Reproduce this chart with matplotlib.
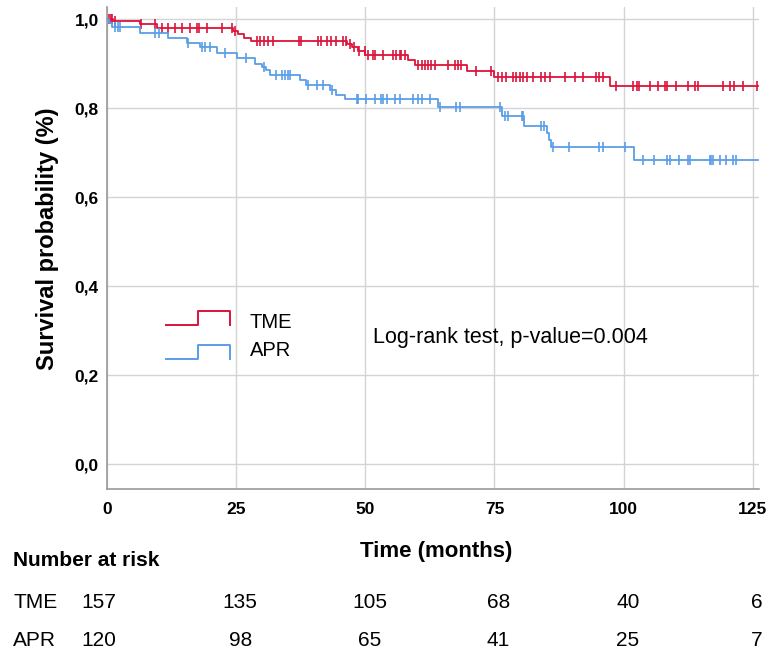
import numpy as np
import matplotlib
matplotlib.use('Agg')
import matplotlib.pyplot as plt
import matplotlib.transforms as mtransforms

plt.rcParams['font.family'] = ['Liberation Sans', 'DejaVu Sans']

# Kaplan-Meier steps (time in months, survival after the step)
tme_times = [0, 1.2, 6.4, 9.6, 24.4, 25.4, 26.5, 27.8, 46.5, 47.5, 48.5, 50.0,
             58.2, 59.6, 69.6, 75.0, 97.3]
tme_surv = [1.0, 0.995, 0.989, 0.980, 0.973, 0.966, 0.958, 0.951, 0.944, 0.937,
            0.929, 0.919, 0.908, 0.897, 0.884, 0.870, 0.850]
apr_times = [0, 0.3, 1.0, 6.4, 11.8, 15.4, 18.0, 21.2, 25.1, 28.6, 30.0, 30.8,
             31.5, 37.3, 38.6, 43.1, 44.4, 46.0, 64.0, 76.4, 80.8, 85.1, 85.5,
             86.0, 102.1]
apr_surv = [1.0, 0.992, 0.983, 0.968, 0.957, 0.947, 0.938, 0.924, 0.912, 0.900,
            0.892, 0.885, 0.874, 0.863, 0.852, 0.840, 0.829, 0.820, 0.802, 0.782,
            0.760, 0.745, 0.729, 0.713, 0.683]
t_end = 126.0

# censored observations
tme_cens = [0.4, 0.7, 1.0, 1.5, 6.6, 9.3, 10.6, 11.9, 13.2, 14.6, 16.1, 17.5,
            17.9, 19.3, 22.2, 24.1, 24.8, 29.0, 29.6, 30.4, 31.2, 32.2, 37.2,
            37.6, 40.9, 41.5, 42.5, 43.4, 44.4, 45.6, 46.2, 47.1, 47.9, 48.8,
            49.9, 50.5, 51.5, 51.8, 53.4, 55.4, 56.0, 56.7, 57.0, 57.6, 60.2,
            60.9, 61.5, 62.1, 62.8, 63.4, 66.0, 67.3, 67.9, 68.6, 71.5, 74.4,
            75.7, 76.4, 77.3, 78.6, 79.2, 79.9, 80.5, 81.2, 82.5, 84.1, 84.7,
            85.7, 88.6, 90.5, 92.1, 94.7, 95.3, 96.0, 98.6, 101.9, 102.5, 103.0,
            105.1, 106.7, 108.0, 108.3, 110.2, 112.5, 113.8, 114.4, 119.3, 120.5,
            121.3, 123.1, 125.8]
apr_cens = [1.5, 2.2, 2.6, 9.3, 10.0, 15.7, 18.3, 18.9, 19.9, 22.8, 27.0, 30.4,
            32.8, 33.8, 34.4, 35.1, 35.4, 38.9, 40.6, 41.8, 43.6, 48.3, 48.6,
            50.2, 51.8, 53.1, 53.4, 54.1, 55.7, 56.7, 59.3, 60.2, 60.9, 62.5,
            64.4, 67.6, 68.3, 76.0, 77.0, 77.6, 80.3, 80.6, 84.1, 84.6, 86.3,
            89.5, 95.3, 96.0, 100.2, 103.7, 105.8, 108.3, 108.9, 110.8, 112.5,
            112.8, 116.7, 117.0, 117.3, 118.6, 119.8, 121.2, 121.7]

risk_times = [0, 25, 50, 75, 100, 125]
risk_tme = [157, 135, 105, 68, 40, 6]
risk_apr = [120, 98, 65, 41, 25, 7]

red = '#dc143c'
blue = '#5b9de8'


def surv_at(times, surv, t):
    idx = np.searchsorted(times, t, side='right') - 1
    return np.array(surv)[idx]


fig = plt.figure(figsize=(7.69, 6.5), dpi=100)
ax = fig.add_axes([107/769, 1 - 489/650, 652/769, 482/650])

for times, surv, cens, col in [(tme_times, tme_surv, tme_cens, red),
                               (apr_times, apr_surv, apr_cens, blue)]:
    ax.step(list(times) + [t_end], list(surv) + [surv[-1]], where='post',
            color=col, lw=1.3, zorder=3)
    ax.plot(cens, surv_at(times, surv, cens), ls='none', marker='|',
            ms=7.5, mew=1.2, color=col, zorder=3)

ax.set_xlim(0, 126.2)
ax.set_ylim(-0.056, 1.027)
ax.set_xticks(risk_times)
yt = np.arange(0, 1.01, 0.2)
ax.set_yticks(yt)
ax.set_yticklabels([('%.1f' % v).replace('.', ',') for v in yt])
ax.grid(True, color='#d4d4d4', lw=1.0, zorder=0)
ax.tick_params(length=0, labelsize=12.5)
ax.tick_params(axis='x', pad=9)
ax.tick_params(axis='y', pad=6)
for lab in ax.get_xticklabels() + ax.get_yticklabels():
    lab.set_fontweight('bold')
for s in ['top', 'right']:
    ax.spines[s].set_visible(False)
for s in ['left', 'bottom']:
    ax.spines[s].set_color('#9a9a9a')
    ax.spines[s].set_linewidth(1.2)

# legend drawn as small step icons
def step_icon(y0, col):
    xs = [0.0905, 0.1396, 0.1396, 0.1887, 0.1887]
    ys = [y0, y0, y0 + 0.028, y0 + 0.028, y0]
    ax.plot(xs, ys, color=col, lw=1.4, transform=ax.transAxes, clip_on=False)

step_icon(0.341, red)
step_icon(0.270, blue)
ax.text(0.219, 0.346, 'TME', transform=ax.transAxes, fontsize=14.5, va='center')
ax.text(0.219, 0.288, 'APR', transform=ax.transAxes, fontsize=14.5, va='center')
ax.text(0.408, 0.315, 'Log-rank test, p-value=0.004', transform=ax.transAxes,
        fontsize=15.5, va='center')

fig.text(48/769, 1 - 239/650, 'Survival probability (%)', rotation=90,
         fontsize=17, fontweight='bold', ha='center', va='center')
fig.text(436/769, 1 - 552/650, 'Time (months)', fontsize=16,
         fontweight='bold', ha='center', va='center')

# number at risk table
fig.text(13/769, 1 - 560/650, 'Number at risk', fontsize=15,
         fontweight='bold', ha='left', va='center')
trans = mtransforms.blended_transform_factory(ax.transData, fig.transFigure)
for row_y, name, vals in [(1 - 602/650, 'TME', risk_tme),
                          (1 - 640/650, 'APR', risk_apr)]:
    fig.text(13/769, row_y, name, fontsize=15, ha='left', va='center')
    for t, v in zip(risk_times, vals):
        xpos = t + 0.8 if t > 0 else t - 1.5
        ax.text(xpos, row_y, str(v), transform=trans, fontsize=15,
                ha='center', va='center', clip_on=False)

fig.savefig('out.png', dpi=100)
